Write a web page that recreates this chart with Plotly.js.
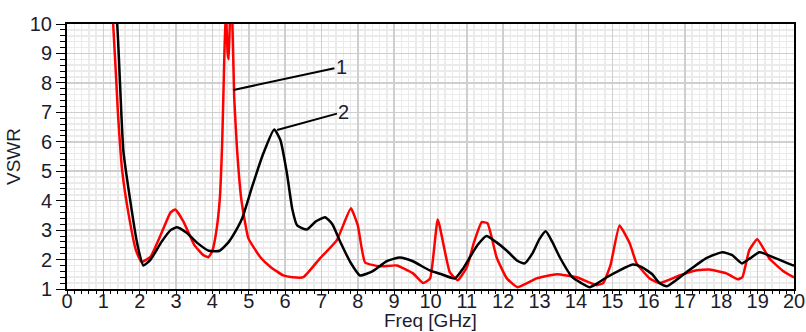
<!DOCTYPE html>
<html>
<head>
<meta charset="utf-8">
<script src="https://cdn.plot.ly/plotly-3.0.1.min.js"></script>
<style>html,body{margin:0;padding:0;background:#fff;}#chart{width:806px;height:332px;}</style>
</head>
<body>
<div id="chart"></div>
<script>
// Series 1 (red)
const freq1 = [1.1,1.27,1.4,1.52,1.7,1.9,2.05,2.3,2.6,2.85,2.98,3.2,3.5,3.75,3.89,4.0,4.1,4.2,4.27,4.33,4.37,4.42,4.45,4.5,4.55,4.6,4.68,4.8,4.99,5.32,5.6,5.95,6.2,6.5,6.96,7.42,7.81,8.0,8.2,8.6,9.07,9.52,9.8,9.99,10.2,10.53,10.75,11.0,11.2,11.41,11.57,11.82,12.1,12.4,12.92,13.47,14.02,14.57,14.75,14.95,15.2,15.48,15.67,16.03,16.3,16.85,17.3,17.67,18.14,18.45,18.58,18.77,18.99,19.32,19.68,20];
const vswr1 = [12,10,7,5.0,3.5,2.3,1.92,2.1,2.9,3.6,3.7,3.3,2.5,2.15,2.08,2.3,2.9,4.0,6,9,10.5,9,8.8,11,10,7.5,5.7,4.0,2.72,2.08,1.75,1.46,1.4,1.4,2.04,2.65,3.74,3.16,1.9,1.77,1.8,1.53,1.2,1.36,3.36,1.57,1.3,1.74,2.6,3.27,3.23,2.07,1.36,1.06,1.36,1.5,1.4,1.13,1.2,1.8,3.16,2.55,1.87,1.36,1.2,1.46,1.63,1.66,1.53,1.33,1.4,2.32,2.69,2.04,1.63,1.39];
// Series 2 (black)
const freq2 = [1.2,1.38,1.55,1.74,1.93,2.1,2.3,2.6,2.85,3.03,3.3,3.6,3.9,4.2,4.45,4.7,4.82,5.1,5.4,5.7,5.87,6.05,6.2,6.33,6.6,6.85,7.1,7.3,7.5,7.8,8.06,8.4,8.8,9.16,9.5,9.98,10.3,10.67,10.9,11.08,11.3,11.54,11.8,12.1,12.4,12.59,12.8,13.0,13.17,13.35,13.56,13.9,14.15,14.38,14.6,14.85,15.15,15.56,15.8,16.1,16.3,16.5,16.7,17.04,17.59,18.03,18.3,18.57,18.8,19.05,19.5,19.95,20];
const vswr2 = [12,10,5.7,4.0,2.55,1.8,2.0,2.6,3.0,3.1,2.9,2.55,2.3,2.3,2.6,3.1,3.4,4.5,5.6,6.42,6.06,4.93,3.7,3.16,3.02,3.3,3.44,3.2,2.65,1.9,1.46,1.6,1.95,2.07,1.95,1.63,1.5,1.36,1.7,2.07,2.5,2.8,2.6,2.3,1.95,1.87,2.2,2.7,2.96,2.6,2.07,1.4,1.2,1.06,1.2,1.4,1.6,1.83,1.75,1.5,1.2,1.09,1.25,1.57,2.05,2.25,2.15,1.87,2.05,2.25,2.04,1.81,1.8];
const xTicks = [0,1,2,3,4,5,6,7,8,9,10,11,12,13,14,15,16,17,18,19,20];
const yTicks = [1,2,3,4,5,6,7,8,9,10];
const labels = ["1","2"];
const xTitle = "Freq [GHz]";

const tickFont = {family:"Liberation Sans, Arial, sans-serif", size:20, color:"#1c1c2c"};
const titleFont = {family:"Liberation Sans, Arial, sans-serif", size:19, color:"#1c1c2c"};

const traces = [
  {x:freq1, y:vswr1, mode:"lines", line:{color:"#ff0000", width:2.5, shape:"spline", smoothing:0.4}, hoverinfo:"skip"},
  {x:freq2, y:vswr2, mode:"lines", line:{color:"#000000", width:2.5, shape:"spline", smoothing:0.5}, hoverinfo:"skip"}
];

const layout = {
  width:806, height:332,
  margin:{l:67, r:12, t:24, b:43},
  paper_bgcolor:"#ffffff", plot_bgcolor:"#ffffff",
  showlegend:false,
  xaxis:{
    range:[0,20], tickvals:xTicks, ticktext:xTicks.map(String),
    showgrid:true, gridcolor:"#cfcfcf", gridwidth:1.5,
    minor:{dtick:0.2, showgrid:true, gridcolor:"#ebebeb", gridwidth:1.5, ticks:"outside", ticklen:3, tickcolor:"#000"},
    ticks:"outside", ticklen:3, tickcolor:"#000",
    ticklabelstandoff:-10,
    showline:true, linecolor:"#000", linewidth:2, mirror:true,
    zeroline:false, tickfont:tickFont
  },
  yaxis:{
    range:[1,10], tickvals:yTicks, ticktext:yTicks.map(String),
    showgrid:true, gridcolor:"#cfcfcf", gridwidth:1.5,
    minor:{dtick:0.2, showgrid:true, gridcolor:"#ebebeb", gridwidth:1.5, ticks:"outside", ticklen:5, tickcolor:"#000"},
    ticks:"outside", ticklen:9, tickcolor:"#000",
    showline:true, linecolor:"#000", linewidth:2, mirror:true,
    zeroline:false, tickfont:tickFont,
    title:{text:"VSWR", font:titleFont, standoff:4}
  },
  annotations:[
    {x:4.58, y:7.76, ax:7.55, ay:8.55, axref:"x", ayref:"y", xref:"x", yref:"y", text:labels[0], showarrow:true, arrowhead:0, arrowwidth:2, arrowcolor:"#000", font:tickFont},
    {x:5.78, y:6.40, ax:7.62, ay:7.02, axref:"x", ayref:"y", xref:"x", yref:"y", text:labels[1], showarrow:true, arrowhead:0, arrowwidth:2, arrowcolor:"#000", font:tickFont},
    {x:0.5, y:-0.1623, xref:"paper", yref:"paper", xanchor:"center", yanchor:"bottom", text:xTitle, showarrow:false, font:titleFont, borderpad:0}
  ]
};

Plotly.newPlot("chart", traces, layout, {displayModeBar:false, staticPlot:true});
</script>
</body>
</html>
